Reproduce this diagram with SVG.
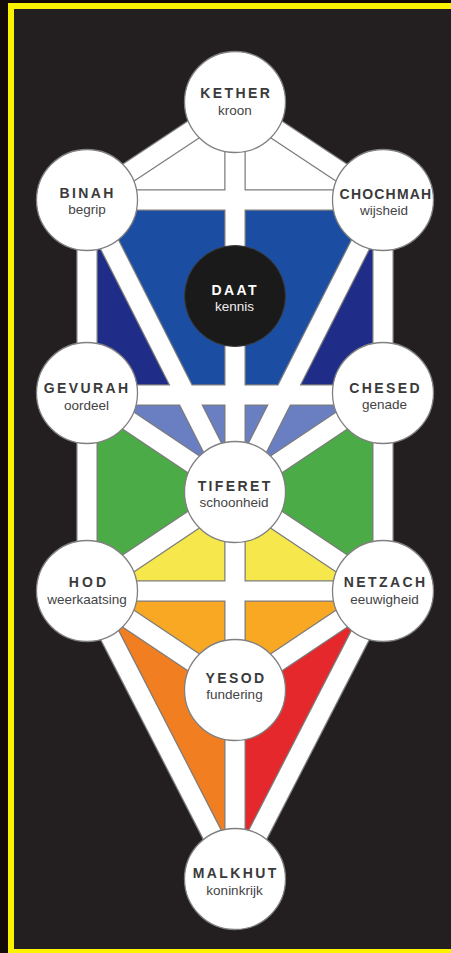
<svg xmlns="http://www.w3.org/2000/svg" width="451" height="953" viewBox="0 0 451 953">
<style>
.bar-o{stroke:#7c7c7c;stroke-width:21.5;fill:none;stroke-linecap:butt}
.bar-w{stroke:#ffffff;stroke-width:19;fill:none;stroke-linecap:butt}
.node{fill:#ffffff;stroke:#808080;stroke-width:1.3}
.name{font-family:"Liberation Sans",Arial,sans-serif;font-weight:bold;font-size:14px;fill:#3a3a3a;text-anchor:middle;letter-spacing:2.4px}
.sub{font-family:"Liberation Sans",Arial,sans-serif;font-size:13.5px;fill:#444444;text-anchor:middle}
</style>
<rect x="0" y="0" width="451" height="953" fill="#120b08"/>
<rect x="8" y="3" width="443" height="950" fill="#fbf200"/>
<rect x="14" y="9" width="437" height="940" fill="#231f20"/>

<g id="areas">
<polygon points="235,102 87,200 383,200" fill="#ffffff"/>
<polygon points="87,200 87,395 185.8,395" fill="#1f2c88"/>
<polygon points="87,200 185.8,395 235,395 235,200" fill="#1b4ea3"/>
<polygon points="383,200 383,395 284.2,395" fill="#1f2c88"/>
<polygon points="383,200 284.2,395 235,395 235,200" fill="#1b4ea3"/>
<polygon points="87,395 383,395 235,492" fill="#6a7ec2"/>
<polygon points="87,393 235,492 87,591" fill="#4bab47"/>
<polygon points="383,393 235,492 383,591" fill="#4bab47"/>
<polygon points="235,492 87,591 235,591" fill="#f6e84c"/>
<polygon points="235,492 383,591 235,591" fill="#f6e84c"/>
<polygon points="87,591 235,591 235,690" fill="#f8a823"/>
<polygon points="383,591 235,591 235,690" fill="#f8a823"/>
<polygon points="87,591 235,690 235,879" fill="#f17f22"/>
<polygon points="383,591 235,690 235,879" fill="#e4282b"/>
</g>

<g id="connectors">
<defs>
<path id="paths" d="M235,102L87,200 M235,102L383,200 M235,102L235,492 M87,200L383,200 M87,200L87,393 M383,200L383,393 M87,200L235,492 M383,200L235,492 M87,395L383,395 M87,393L235,492 M383,393L235,492 M87,393L87,591 M383,393L383,591 M235,492L87,591 M235,492L383,591 M235,492L235,690 M87,591L383,591 M87,591L235,690 M383,591L235,690 M87,591L235,879 M383,591L235,879 M235,690L235,879"/>
</defs>
<use href="#paths" class="bar-o"/>
<use href="#paths" class="bar-w"/>
</g>

<g id="kether"><circle class="node" cx="235" cy="102" r="50.5"/><text class="name" x="236.2" y="98">KETHER</text><text class="sub" x="235" y="115">kroon</text></g>
<g id="binah"><circle class="node" cx="87" cy="200" r="50.5"/><text class="name" x="87.7" y="198">BINAH</text><text class="sub" x="87" y="213.5">begrip</text></g>
<g id="chochmah"><circle class="node" cx="383" cy="200" r="50.5"/><text class="name" x="386" y="198.5" style="letter-spacing:1.2px">CHOCHMAH</text><text class="sub" x="384" y="215">wijsheid</text></g>
<g id="daat"><circle cx="235" cy="296" r="50.5" fill="#1b1a1a" stroke="#3a3a3a" stroke-width="1"/><text class="name" x="235.2" y="295" style="fill:#ffffff">DAAT</text><text class="sub" x="234.5" y="310.5" style="fill:#eeeeee">kennis</text></g>
<g id="gevurah"><circle class="node" cx="87" cy="393" r="50.5"/><text class="name" x="87.2" y="393">GEVURAH</text><text class="sub" x="86.5" y="409.5">oordeel</text></g>
<g id="chesed"><circle class="node" cx="383" cy="393" r="50.5"/><text class="name" x="385.7" y="392.5">CHESED</text><text class="sub" x="384.5" y="408.5">genade</text></g>
<g id="tiferet"><circle class="node" cx="235" cy="492" r="50.5"/><text class="name" x="235.2" y="490.5">TIFERET</text><text class="sub" x="234" y="506.5">schoonheid</text></g>
<g id="hod"><circle class="node" cx="87" cy="591" r="50.5"/><text class="name" x="89" y="586.5" style="letter-spacing:3.2px">HOD</text><text class="sub" x="87" y="604">weerkaatsing</text></g>
<g id="netzach"><circle class="node" cx="383" cy="591" r="50.5"/><text class="name" x="385.7" y="587">NETZACH</text><text class="sub" x="384.5" y="603.5">eeuwigheid</text></g>
<g id="yesod"><circle class="node" cx="235" cy="690" r="50.5"/><text class="name" x="236" y="682.5">YESOD</text><text class="sub" x="234.5" y="698.5">fundering</text></g>
<g id="malkhut"><circle class="node" cx="235" cy="879" r="50.5"/><text class="name" x="235.7" y="878">MALKHUT</text><text class="sub" x="234.5" y="894.5">koninkrijk</text></g>
</svg>
